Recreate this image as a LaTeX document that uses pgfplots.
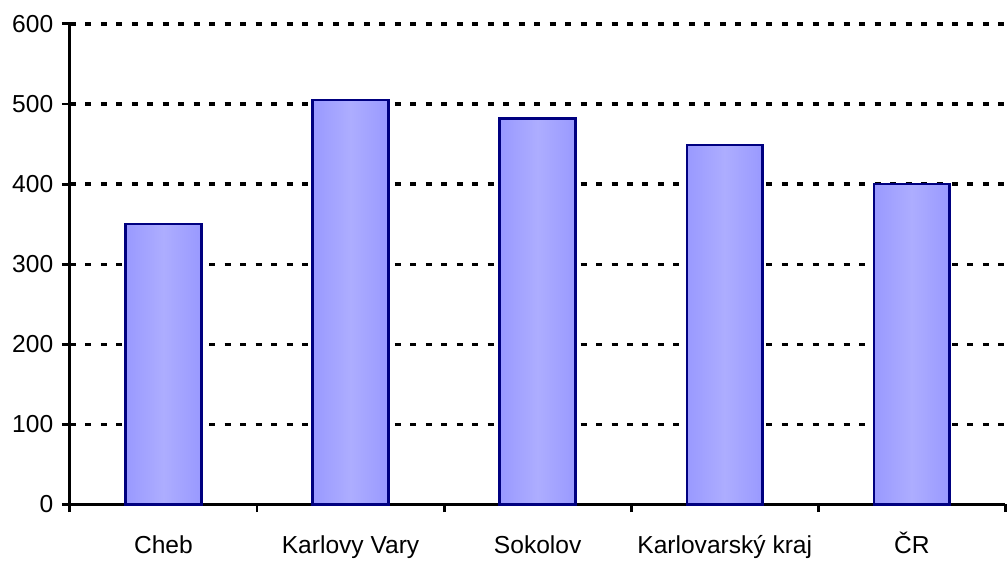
\documentclass[border=0pt]{standalone}
\usepackage{pgfplots}
\pgfplotsset{compat=1.18}
\usepackage{fontspec}
\setmainfont{Liberation Sans}
\definecolor{barlo}{HTML}{9999FF}
\definecolor{barhi}{HTML}{ADADFF}
\definecolor{barline}{HTML}{000080}
\pgfplotsset{mybar/.style={ybar, bar width=0.405, draw=barline, line width=1.5pt,
  left color=barlo, right color=barlo, middle color=barhi}}
\begin{document}
\begin{tikzpicture}[x=1cm,y=1cm]
\begin{axis}[
  at={(0,0)}, anchor=south west,
  scale only axis,
  width=18.74cm, height=9.62cm,
  font=\fontsize{14}{16}\selectfont,
  /pgf/number format/assume math mode=true,
  xmin=-0.5, xmax=4.5,
  ymin=0, ymax=600,
  ytick={0,100,...,600},
  xtick={0,1,2,3,4},
  xticklabels={Cheb, Karlovy Vary, Sokolov, Karlovarský kraj, ČR},
  minor xtick={-0.5,0.5,...,4.5},
  axis x line=bottom, axis y line=left,
  axis line style={-, line width=1.7pt, black},
  tick align=outside,
  major tick length=0.16cm, minor tick length=0.16cm,
  x tick style={draw=none},
  minor x tick style={draw=black, line width=1.7pt},
  y tick style={black, line width=1.7pt},
  ymajorgrids,
  grid style={black, line width=1.8pt, dash pattern=on 0.12cm off 0.19cm},
  xticklabel style={yshift=-0.43cm, text height=0.75em, text depth=0.22em},
  yticklabel style={xshift=-0.05cm},
  clip=false,
]
\addplot[mybar] coordinates {(0,350)};
\addplot[mybar] coordinates {(1,505)};
\addplot[mybar] coordinates {(2,482)};
\addplot[mybar] coordinates {(3,449)};
\addplot[mybar] coordinates {(4,400)};
\end{axis}
\useasboundingbox (-1.40,-1.14) rectangle (18.74,10.10);
\end{tikzpicture}
\end{document}
